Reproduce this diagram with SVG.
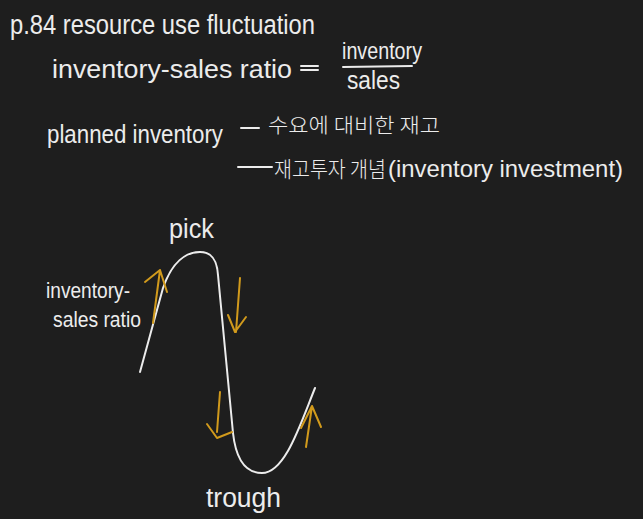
<svg xmlns="http://www.w3.org/2000/svg" width="643" height="519" viewBox="0 0 643 519">
<style>
.t{font-family:"Liberation Sans","Noto Sans CJK KR",sans-serif;fill:#ececec;}
.k{font-family:"Noto Sans CJK KR","Liberation Sans",sans-serif;fill:#ececec;font-weight:300;}
.w{fill:none;stroke:#ececec;stroke-width:2;stroke-linecap:round;stroke-linejoin:round;}
.o{fill:none;stroke:#d19a1c;stroke-width:2;stroke-linecap:round;stroke-linejoin:round;}
</style>
<rect width="643" height="519" fill="#1e1e1e"/>
<g id="title"><text class="t" x="10" y="34" font-size="27" textLength="305" lengthAdjust="spacingAndGlyphs">p.84 resource use fluctuation</text></g>
<g id="ratio">
<text class="t" x="52" y="78" font-size="26" textLength="240" lengthAdjust="spacingAndGlyphs">inventory-sales ratio</text>
<line class="w" x1="301" y1="66" x2="318" y2="66"/>
<line class="w" x1="301" y1="70" x2="318" y2="70"/>
<text class="t" x="342" y="59" font-size="24" textLength="80" lengthAdjust="spacingAndGlyphs">inventory</text>
<line class="w" x1="343" y1="67" x2="412" y2="66"/>
<text class="t" x="347" y="89" font-size="25" textLength="53" lengthAdjust="spacingAndGlyphs">sales</text>
</g>
<g id="planned">
<text class="t" x="47" y="143" font-size="26" textLength="176" lengthAdjust="spacingAndGlyphs">planned inventory</text>
</g>
<g id="note1">
<line class="w" x1="241" y1="128" x2="259" y2="128"/>
<text class="k" x="268" y="133" font-size="20" textLength="172" lengthAdjust="spacingAndGlyphs">수요에 대비한 재고</text>
</g>
<g id="note2">
<line class="w" x1="238" y1="167" x2="272" y2="167"/>
<text class="k" x="274" y="177" font-size="22" textLength="112" lengthAdjust="spacingAndGlyphs">재고투자 개념</text>
<text class="t" x="388" y="177" font-size="24" textLength="235" lengthAdjust="spacingAndGlyphs">(inventory investment)</text>
</g>
<g id="pick"><text class="t" x="169" y="238" font-size="28" textLength="45" lengthAdjust="spacingAndGlyphs">pick</text></g>
<g id="axis-label">
<text class="t" x="46" y="298" font-size="22" textLength="84" lengthAdjust="spacingAndGlyphs">inventory-</text>
<text class="t" x="53" y="327" font-size="22" textLength="88" lengthAdjust="spacingAndGlyphs">sales ratio</text>
</g>
<g id="trough"><text class="t" x="206" y="507" font-size="27" textLength="75" lengthAdjust="spacingAndGlyphs">trough</text></g>
<g id="cycle-curve">
<path class="w" d="M140,372 L163,288 C172,262 186,252 200,252 C212,252 217,260 218,275 L233,433 C236,460 246,473 262,473 C285,473 300,425 315,388"/>
</g>
<g id="connectors">
<path class="o" d="M153,323 L160,270 M145,282 L160,270 L167,292"/>
<path class="o" d="M240,278 L236,332 M228,315 L235,332 L246,317"/>
<path class="o" d="M220,392 L217,432 M207,424 L217,438 L232,432"/>
<path class="o" d="M306,447 L312,406 M301,428 L312,406 L321,427"/>
</g>
</svg>
